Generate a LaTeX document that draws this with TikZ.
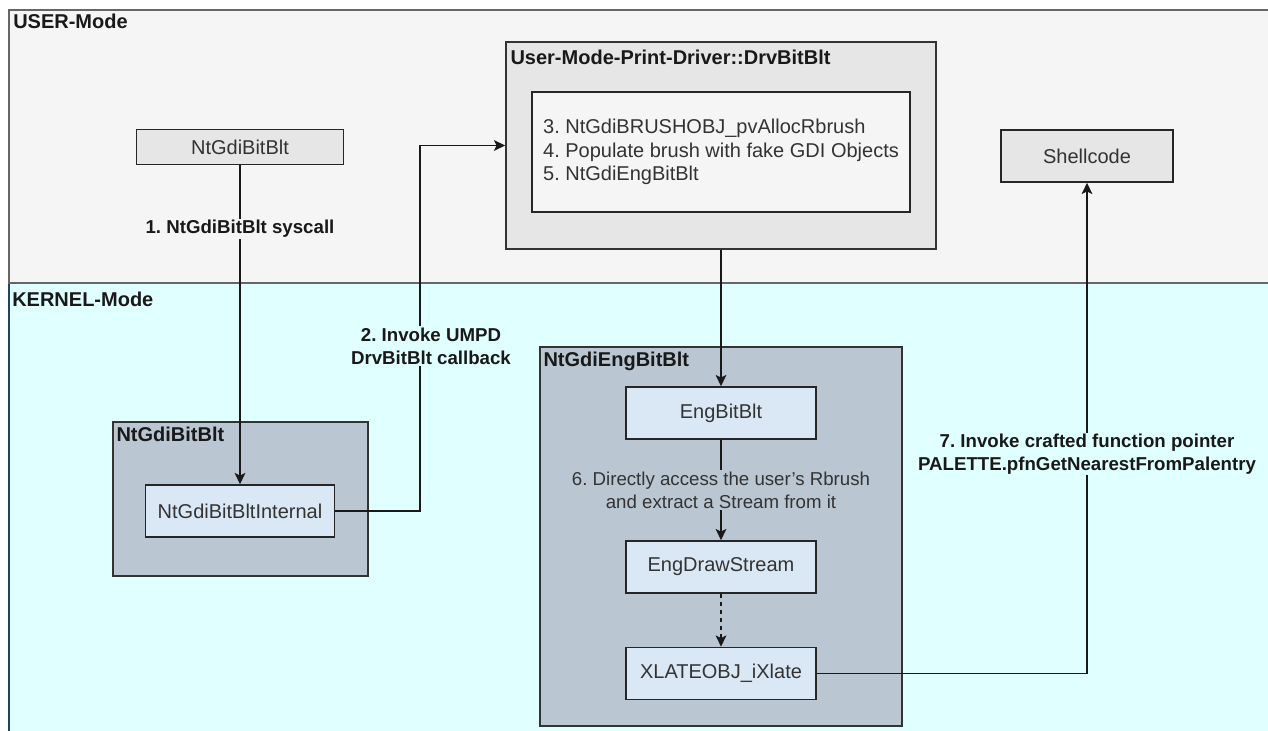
\documentclass[tikz,border=0pt]{standalone}
\usepackage{fontspec}
\setmainfont{Liberation Sans}
\usetikzlibrary{arrows.meta,calc}
\definecolor{usrbg}{HTML}{F5F5F5}
\definecolor{krnbg}{HTML}{E0FFFF}
\definecolor{krnline}{HTML}{23445D}
\definecolor{grybox}{HTML}{E6E6E6}
\definecolor{slate}{HTML}{BAC6D2}
\definecolor{blubox}{HTML}{DAE8F5}
\definecolor{txtgray}{HTML}{333333}
\frenchspacing

\begin{document}
\begin{tikzpicture}[x=0.75pt,y=-0.75pt,>={Stealth[length=8.5pt,width=8pt,inset=2pt]},
        line/.style={draw=black!90,line width=1.2pt},
        box/.style={draw=black!85,line width=1.1pt,text=txtgray,
            font=\fontsize{15}{18}\selectfont,minimum height=39pt,inner sep=0pt},
        grp/.style={draw=black!80,line width=1.1pt,fill=slate,inner sep=0pt},
        ttl/.style={anchor=base west,inner sep=0pt,
            font=\bfseries\fontsize{15}{18}\selectfont,text=black!90},
        lbl/.style={align=center,inner sep=1pt,
            font=\bfseries\fontsize{14}{17}\selectfont,text=black!90}]

    \useasboundingbox (0,0) rectangle (1268,731);
    \clip (0,0) rectangle (1268,731);
    \fill[white] (0,0) rectangle (1268,731);

    % the two modes
    \draw[fill=krnbg,draw=krnline,line width=1.1pt] (9,283) rectangle (1300,760);
    \draw[fill=usrbg,draw=black!60,line width=1.1pt] (9,10) rectangle (1300,283);
    \node[ttl] (usrttl) at (13,29) {USER-Mode};
    \node[ttl] (krnttl) at (12,306) {KERNEL-Mode};

    % user mode
    \node[box,fill=grybox,minimum width=155.25pt,minimum height=26.25pt] (usrbitblt) at (240,147) {NtGdiBitBlt};
    \node[grp,fill=grybox,minimum width=322.5pt,minimum height=155.25pt] (drv) at (721,145.5) {};
    \node[ttl] (drvttl) at ($(drv.north west)+(5,23)$) {User-Mode-Print-Driver::DrvBitBlt};
    \node[box,fill=usrbg,minimum width=283.5pt,minimum height=90pt,align=left,
        font=\fontsize{15}{17.6}\selectfont] (steps) at (721,152)
        {3. NtGdiBRUSHOBJ\_pvAllocRbrush\\4. Populate brush with fake GDI Objects\\5. NtGdiEngBitBlt};
    \node[box,fill=grybox,minimum width=129pt] (shell) at (1087,156) {Shellcode};

    % kernel mode
    \node[grp,minimum width=191.25pt,minimum height=115.5pt] (kbitblt) at (240.5,499) {};
    \node[ttl] (kbitbltttl) at ($(kbitblt.north west)+(4,20)$) {NtGdiBitBlt};
    \node[box,fill=blubox,minimum width=141.75pt] (internal) at (240,511) {NtGdiBitBltInternal};

    \node[grp,minimum width=271.5pt,minimum height=284.25pt] (engblt) at (721,536.5) {};
    \node[ttl] (engbltttl) at ($(engblt.north west)+(4,20)$) {NtGdiEngBitBlt};
    \node[box,fill=blubox,minimum width=142.5pt] (engbitblt) at (721,413) {EngBitBlt};
    \node[box,fill=blubox,minimum width=142.5pt] (engdraw) at (721,567) {EngDrawStream};
    \node[box,fill=blubox,minimum width=142.5pt] (xlate) at (721,673.5) {XLATEOBJ\_iXlate};

    % calls
    \draw[line,->] (usrbitblt) -- node[lbl,fill=usrbg,pos=0.2] (lbl1) {1. NtGdiBitBlt syscall} (internal);

    \coordinate (cb) at (420,145.5);
    \draw[line,->] (internal.east) -| (cb) -- (drv.west);
    \node[lbl,fill=krnbg] (lbl2) at (431,346) {2. Invoke UMPD\\DrvBitBlt callback};

    \draw[line,->] (drv.south) -- (engbitblt.north);
    \draw[line,->] (engbitblt) -- node[lbl,fill=slate,font=\fontsize{14}{17}\selectfont,text=txtgray] (lbl6)
        {6. Directly access the user's Rbrush\\and extract a Stream from it} (engdraw);
    \draw[line,->,dash pattern=on 3pt off 3pt] (engdraw) -- (xlate);

    \draw[line,->] (xlate.east) -| (shell.south);
    \node[lbl,fill=krnbg] (lbl7) at (1087,454) {7. Invoke crafted function pointer\\PALETTE.pfnGetNearestFromPalentry};

\end{tikzpicture}
\end{document}
